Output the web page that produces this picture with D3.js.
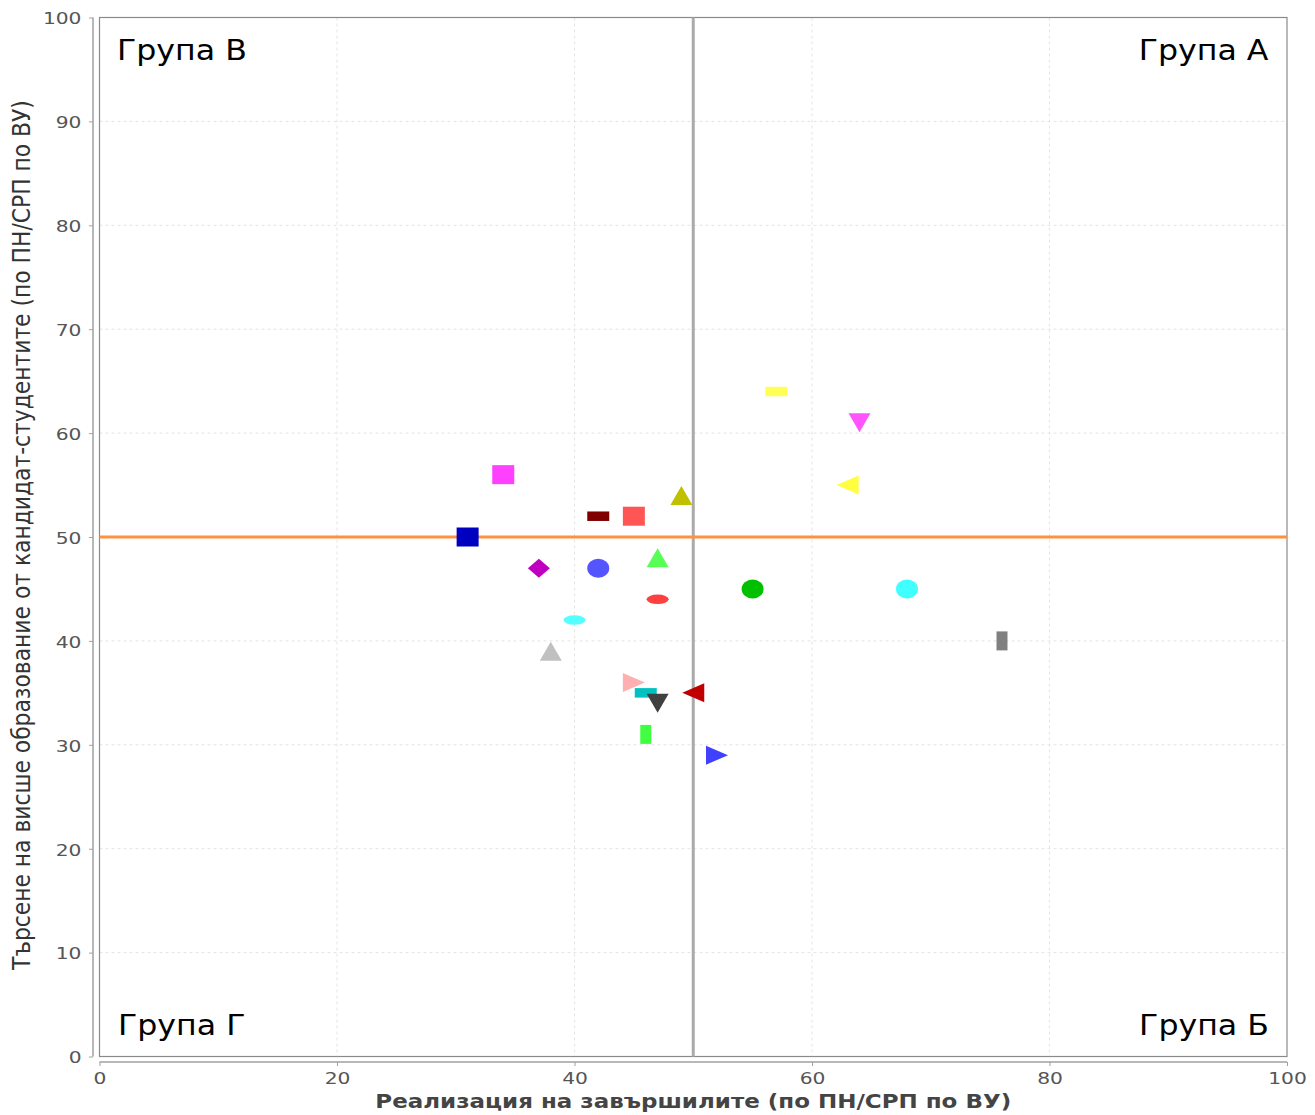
<!DOCTYPE html>
<html><head><meta charset="utf-8">
<script src="https://cdn.jsdelivr.net/npm/d3@7"></script>
<style>body{margin:0;background:#fff}svg{display:block}</style>
</head><body>
<script>
// data
const xValues = [45, 42, 47, 57, 64, 40, 45, 76, 50, 31, 55, 49, 37, 46, 47, 47, 52, 46, 63, 34, 68, 38, 42];
const yValues = [52, 47, 48, 64, 61, 42, 36, 40, 35, 50, 45, 54, 47, 35, 34, 44, 29, 31, 55, 56, 45, 39, 52];
const shapes  = ["square","circle","triUp","hrect","triDown","hellipse","triRight","vrect","triLeft","square","circle","triUp","diamond","hrect","triDown","hellipse","triRight","vrect","triLeft","square","circle","triUp","hrect"];
const colors  = ["#ff5555","#5555ff","#55ff55","#ffff55","#ff55ff","#55ffff","#ffafaf","#808080","#c00000","#0000c0","#00c000","#c0c000","#c000c0","#00c0c0","#404040","#ff4040","#4040ff","#40ff40","#ffff40","#ff40ff","#40ffff","#c0c0c0","#800000"];
const xTicks = [0, 20, 40, 60, 80, 100];
const yTicks = [0, 10, 20, 30, 40, 50, 60, 70, 80, 90, 100];
const groupLabels = ["Група В", "Група А", "Група Г", "Група Б"];
const xThreshold = 50, yThreshold = 50;
const xTitle = "Реализация на завършилите (по ПН/СРП по ВУ)";
const yTitle = "Търсене на висше образование от кандидат-студентите (по ПН/СРП по ВУ)";

const W = 1315, H = 1115;
const L = 99.5, R = 1287, T = 17.5, B = 1056.5;
const svg = d3.select("body").append("svg").attr("width", W).attr("height", H);
const x = d3.scaleLinear().domain([0, 100]).range([L, R]);
const y = d3.scaleLinear().domain([0, 100]).range([B, T]);
const fontFam = "DejaVu Sans, sans-serif";

// gridlines
svg.append("g").selectAll("line").data(xTicks.filter(d => d > 0 && d < 100)).join("line")
  .attr("x1", d => x(d)).attr("x2", d => x(d)).attr("y1", T).attr("y2", B)
  .attr("stroke", "#e4e4e4").attr("stroke-dasharray", "3,3");
svg.append("g").selectAll("line").data(yTicks.filter(d => d > 0 && d < 100)).join("line")
  .attr("y1", d => y(d)).attr("y2", d => y(d)).attr("x1", L).attr("x2", R)
  .attr("stroke", "#e4e4e4").attr("stroke-dasharray", "3,3");

// plot border
svg.append("rect").attr("x", L).attr("y", T).attr("width", R - L).attr("height", B - T)
  .attr("fill", "none").attr("stroke", "#8a8a8a").attr("stroke-width", 1.2);

// axes
const xAxis = svg.append("g").attr("transform", `translate(0,${B + 5.5})`)
  .call(d3.axisBottom(x).tickValues(xTicks).tickSize(4).tickFormat(d3.format("d")));
const yAxis = svg.append("g").attr("transform", `translate(${L - 6.5},0)`)
  .call(d3.axisLeft(y).tickValues(yTicks).tickSize(4).tickFormat(d3.format("d")));
[xAxis, yAxis].forEach(a => {
  a.select(".domain").attr("stroke", "#a0a0a0").attr("stroke-width", 1.5);
  a.selectAll(".tick line").attr("stroke", "#a0a0a0");
  a.selectAll(".tick text").attr("fill", "#555").style("font-family", fontFam).style("font-size", "15px")
    .attr("x", 0).attr("y", 0).attr("dy", 0);
});
xAxis.selectAll(".tick text").attr("text-anchor", "middle").attr("transform", "translate(0,22) scale(1.35,1)");
yAxis.selectAll(".tick text").attr("text-anchor", "end").attr("transform", "translate(-11.5,6.3) scale(1.35,1)");
xAxis.select(".domain").attr("d", `M${L},0H${R}`);
yAxis.select(".domain").attr("d", `M0,${T}V${B}`);

// threshold lines
svg.append("line").attr("x1", x(xThreshold)).attr("x2", x(xThreshold)).attr("y1", T).attr("y2", B)
  .attr("stroke", "#aaaaaa").attr("stroke-width", 3);
svg.append("line").attr("x1", L).attr("x2", R).attr("y1", y(yThreshold)).attr("y2", y(yThreshold))
  .attr("stroke", "#ff9040").attr("stroke-width", 3);

// markers
const hw = 11, hh = 9.5;
function shapePath(s) {
  switch (s) {
    case "square": return `M${-hw},${-hh}H${hw}V${hh}H${-hw}Z`;
    case "hrect": return `M${-hw},${-hh/2}H${hw}V${hh/2}H${-hw}Z`;
    case "vrect": return `M${-hw/2},${-hh}H${hw/2}V${hh}H${-hw/2}Z`;
    case "triUp": return `M0,${-hh}L${hw},${hh}L${-hw},${hh}Z`;
    case "triDown": return `M0,${hh}L${hw},${-hh}L${-hw},${-hh}Z`;
    case "triRight": return `M${hw},0L${-hw},${hh}L${-hw},${-hh}Z`;
    case "triLeft": return `M${-hw},0L${hw},${hh}L${hw},${-hh}Z`;
    case "diamond": return `M0,${-hh}L${hw},0L0,${hh}L${-hw},0Z`;
  }
  return null;
}
const pts = xValues.map((v, i) => ({x: v, y: yValues[i], s: shapes[i], c: colors[i]}));
const mg = svg.append("g");
pts.forEach(p => {
  const cx = x(p.x), cy = y(p.y);
  if (p.s === "circle") {
    mg.append("ellipse").attr("cx", cx).attr("cy", cy).attr("rx", hw).attr("ry", hh).attr("fill", p.c);
  } else if (p.s === "hellipse") {
    mg.append("ellipse").attr("cx", cx).attr("cy", cy).attr("rx", hw).attr("ry", hh / 2).attr("fill", p.c);
  } else {
    mg.append("path").attr("d", shapePath(p.s)).attr("transform", `translate(${cx},${cy})`).attr("fill", p.c);
  }
});

// group labels
const gl = [
  {t: groupLabels[0], x: L + 17.5, y: 60, a: "start"},
  {t: groupLabels[1], x: R - 18.5, y: 60, a: "end"},
  {t: groupLabels[2], x: L + 18.5, y: 1035, a: "start"},
  {t: groupLabels[3], x: R - 18, y: 1035, a: "end"}
];
svg.append("g").selectAll("text").data(gl).join("text")
  .attr("transform", d => `translate(${d.x},${d.y}) scale(1.13,1)`).attr("text-anchor", d => d.a)
  .style("font-family", fontFam).style("font-size", "28px").attr("fill", "#000").text(d => d.t);

// axis titles
svg.append("text").attr("transform", `translate(${(L + R) / 2},1108) scale(1.21,1)`).attr("text-anchor", "middle")
  .style("font-family", fontFam).style("font-size", "19px").style("font-weight", "bold")
  .attr("fill", "#444").text(xTitle);
svg.append("text").attr("transform", `translate(30,${(T + B) / 2 - 2}) scale(1.3,1.15) rotate(-90)`).attr("text-anchor", "middle")
  .style("font-family", fontFam).style("font-size", "19px")
  .attr("fill", "#333").text(yTitle);
</script>
</body></html>
